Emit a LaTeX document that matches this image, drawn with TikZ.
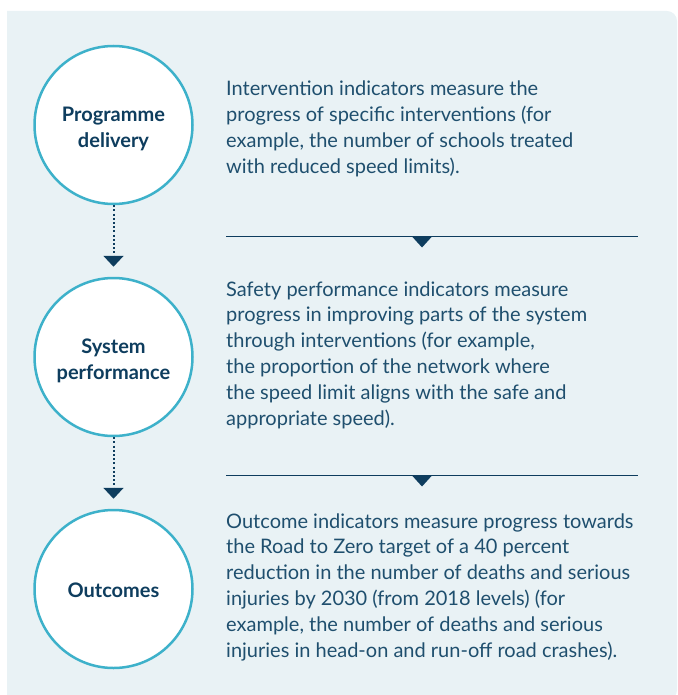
\documentclass[tikz,border=0pt]{standalone}
\usepackage{fontspec}
\setmainfont{Lato}
\usetikzlibrary{arrows.meta}

\definecolor{panel}{HTML}{E9F2F5}
\definecolor{ring}{HTML}{3DB1CA}
\definecolor{navy}{HTML}{0E3D5E}
\definecolor{body}{HTML}{1F4F6E}

\begin{document}
\begin{tikzpicture}[x=1pt,y=-1pt,
   stage/.style={draw=ring,line width=2.5pt,fill=white,circle,minimum size=158pt},
   heading/.style={align=center,text=navy,font=\fontsize{20}{25.6}\selectfont\bfseries},
   blurb/.style={anchor=base west,align=left,inner sep=0pt,text=body,
     font=\fontsize{20}{25.8}\selectfont},
   flow/.style={navy,line width=2pt,dash pattern=on 2pt off 2.2pt,
     -{Triangle[width=20pt,length=11pt,sharp]},shorten >=10pt},
   rule/.style={navy,line width=1pt}]

\useasboundingbox (0,0) rectangle (677,695);
\fill[panel] (7,700) -- (7,11) {[rounded corners=10pt] -- (677,11) -- (677,700)} -- cycle;

\node[stage,label={[heading,yshift=-4pt]center:Programme\\delivery}] (delivery) at (113.5,125) {};
\node[stage,label={[heading,yshift=-4pt]center:System\\performance}] (system) at (113.5,357) {};
\node[stage,label={[heading,yshift=-1pt]center:Outcomes}] (outcomes) at (113.5,589) {};

\draw[flow] (delivery.south) -- (system.north);
\draw[flow] (system.south) -- (outcomes.north);

% base anchor sits on the last line
\node[blurb] (txtdelivery) at (226,173.4) {Intervention indicators measure the\\
  progress of specific interventions (for\\
  example, the number of schools treated\\
  with reduced speed limits).};
\node[blurb] (txtsystem) at (226,425) {Safety performance indicators measure\\
  progress in improving parts of the system\\
  through interventions (for example,\\
  the proportion of the network where\\
  the speed limit aligns with the safe and\\
  appropriate speed).};
\node[blurb] (txtoutcomes) at (226,657) {Outcome indicators measure progress towards\\
  the Road to Zero target of a 40 percent\\
  reduction in the number of deaths and serious\\
  injuries by 2030 (from 2018 levels) (for\\
  example, the number of deaths and serious\\
  injuries in head-on and run-off road crashes).};

% dividers with a pointer
\foreach \y/\n in {236.5/one,475.5/two}{
  \coordinate (\n l) at (226,\y);
  \coordinate (\n r) at (638,\y);
  \draw[rule] (\n l) -- (\n r);
  \fill[navy] (412,\y) -- (432,\y) -- (422,\y+11) -- cycle;
}

\end{tikzpicture}
\end{document}
